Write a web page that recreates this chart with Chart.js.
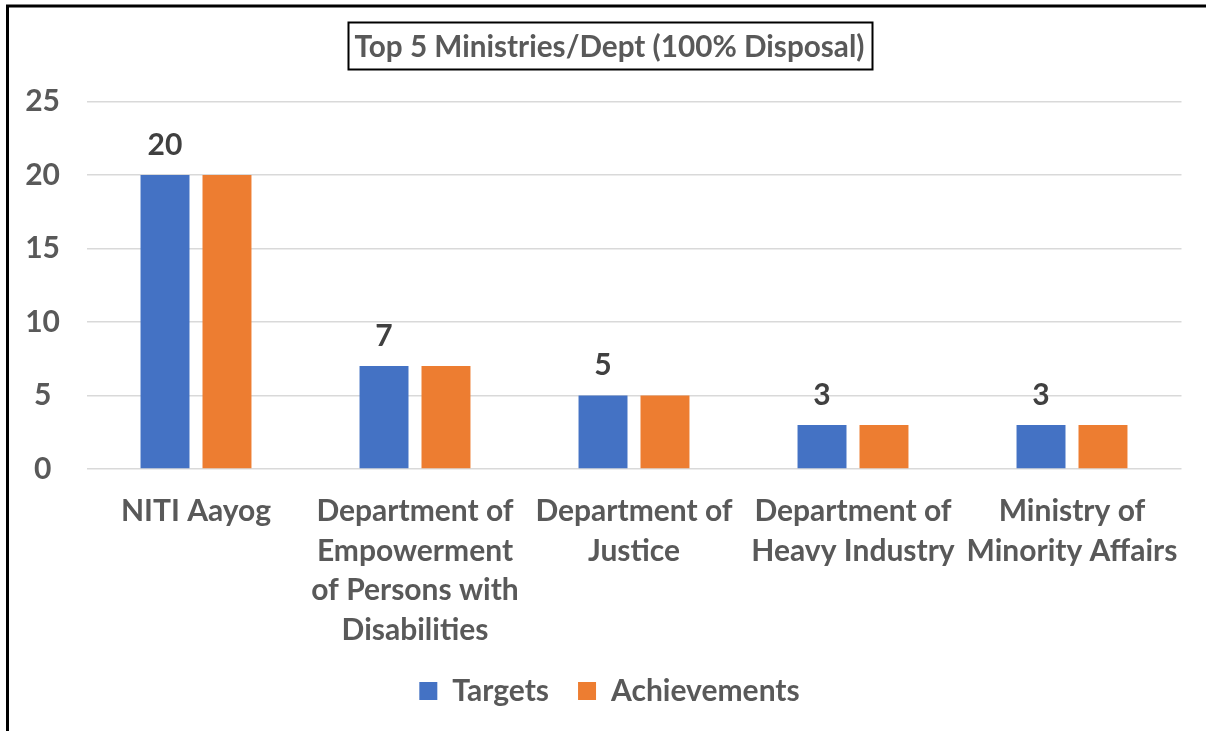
<!DOCTYPE html>
<html>
<head>
<meta charset="utf-8">
<script src="https://cdn.jsdelivr.net/npm/chart.js@4.4.0/dist/chart.umd.min.js"></script>
<style>
  html, body { margin: 0; padding: 0; background: #fff; }
  #wrap { width: 1206px; height: 731px; }
</style>
</head>
<body>
<div id="wrap"><canvas id="chart" width="1206" height="731"></canvas></div>
<script>
const chartTitle = "Top 5 Ministries/Dept (100% Disposal)";
const categories = [
  ["NITI Aayog"],
  ["Department of", "Empowerment", "of Persons with", "Disabilities"],
  ["Department of", "Justice"],
  ["Department of", "Heavy Industry"],
  ["Ministry of", "Minority Affairs"]
];
const seriesNames = ["Targets", "Achievements"];
const targets = [20, 7, 5, 3, 3];
const achievements = [20, 7, 5, 3, 3];
const yTicks = [0, 5, 10, 15, 20, 25];

const FONT = "Lato";
const SIZE = 30;
const TITLE_SIZE = 29.7;
const TEXT = "#595959";

// outer frame + box round the title
const framePlugin = {
  id: "frame",
  afterDraw(chart) {
    const ctx = chart.ctx;
    ctx.save();
    ctx.strokeStyle = "#000";
    ctx.lineWidth = 3;
    ctx.strokeRect(7.5, 6, 1206, 740);

    const t = chart.titleBlock;
    ctx.font = "bold " + TITLE_SIZE + "px " + FONT;
    const w = ctx.measureText(chartTitle).width;
    const cx = t.left + t.width / 2;
    ctx.lineWidth = 2;
    ctx.strokeRect(Math.round(cx - w / 2 - 7) + 0.5, 22.5, Math.round(w + 14), 47);
    ctx.restore();
  }
};

// value labels above the Targets bars
const valueLabels = {
  id: "valueLabels",
  afterDatasetsDraw(chart) {
    const ctx = chart.ctx;
    const meta = chart.getDatasetMeta(0);
    ctx.save();
    ctx.font = "bold " + SIZE + "px " + FONT;
    ctx.fillStyle = "#404040";
    ctx.textAlign = "center";
    ctx.textBaseline = "middle";
    meta.data.forEach((bar, i) => {
      ctx.fillText(String(targets[i]), bar.x, bar.y - 30);
    });
    ctx.restore();
  }
};

new Chart(document.getElementById("chart"), {
  type: "bar",
  data: {
    labels: categories,
    datasets: [
      { label: seriesNames[0], data: targets, backgroundColor: "#4472C4" },
      { label: seriesNames[1], data: achievements, backgroundColor: "#ED7D31" }
    ]
  },
  options: {
    responsive: false,
    animation: false,
    layout: { padding: { left: 37.5, right: 24.5, top: 0, bottom: 15 } },
    plugins: {
      title: {
        display: true,
        text: chartTitle,
        color: TEXT,
        font: { family: FONT, size: TITLE_SIZE, weight: "bold", lineHeight: 1.2 },
        padding: { top: 29.5, bottom: 36.4 }
      },
      legend: {
        position: "bottom",
        labels: {
          color: TEXT,
          font: { family: FONT, size: SIZE, weight: "bold" },
          boxWidth: 18,
          boxHeight: 18,
          padding: 29
        }
      },
      tooltip: { enabled: false }
    },
    datasets: {
      bar: { categoryPercentage: 0.566, barPercentage: 0.79 }
    },
    scales: {
      x: {
        grid: { display: false },
        border: { display: false },
        ticks: {
          color: TEXT,
          font: { family: FONT, size: SIZE, weight: "bold", lineHeight: 1.317 },
          maxRotation: 0,
          autoSkip: false,
          padding: 15
        },
        afterFit(scale) { scale.height = 178; }
      },
      y: {
        min: 0,
        max: 25,
        afterBuildTicks(scale) { scale.ticks = yTicks.map(v => ({ value: v })); },
        grid: { color: "#D9D9D9", lineWidth: 1.5, drawTicks: false },
        border: { display: false },
        ticks: {
          color: TEXT,
          font: { family: FONT, size: SIZE, weight: "bold" },
          mirror: true,
          crossAlign: "center",
          padding: -61.3
        },
        afterFit(scale) { scale.width = 49; }
      }
    }
  },
  plugins: [framePlugin, valueLabels]
});
</script>
</body>
</html>
